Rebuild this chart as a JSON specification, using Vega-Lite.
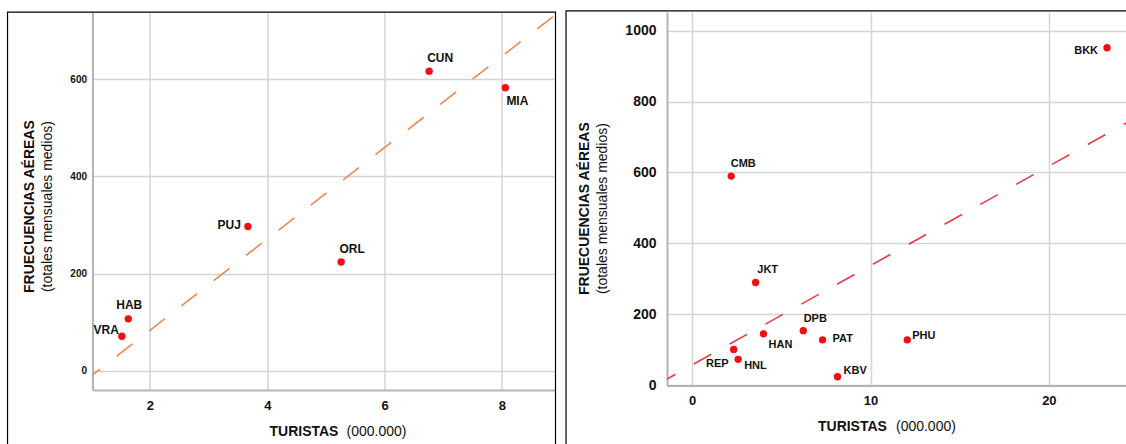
{
  "$schema": "https://vega.github.io/schema/vega-lite/v6.json",
  "background": "white",
  "padding": {"left": 6.5, "top": 10.1, "right": 0, "bottom": 0},
  "bounds": "flush",
  "spacing": 111.5,
  "datasets": {
    "leftPts": [
      {"c": "CUN", "t": 6.76, "f": 617},
      {"c": "MIA", "t": 8.06, "f": 583},
      {"c": "PUJ", "t": 3.67, "f": 297},
      {"c": "ORL", "t": 5.26, "f": 224},
      {"c": "HAB", "t": 1.63, "f": 107},
      {"c": "VRA", "t": 1.52, "f": 71}
    ],
    "leftTrend": [
      {"t": 1.02, "f": -8.6},
      {"t": 8.915, "f": 733.5}
    ],
    "rightPts": [
      {"c": "BKK", "t": 23.26, "f": 952},
      {"c": "CMB", "t": 2.19, "f": 590},
      {"c": "JKT", "t": 3.56, "f": 290},
      {"c": "HAN", "t": 4.0, "f": 145},
      {"c": "DPB", "t": 6.23, "f": 154},
      {"c": "PAT", "t": 7.31, "f": 128},
      {"c": "PHU", "t": 12.06, "f": 128},
      {"c": "REP", "t": 2.33, "f": 101},
      {"c": "HNL", "t": 2.58, "f": 73},
      {"c": "KBV", "t": 8.15, "f": 24}
    ],
    "rightTrend": [
      {"t": -1.41, "f": 17.7},
      {"t": 24.38, "f": 741}
    ],
    "frame": [{}]
  },
  "hconcat": [
    {
      "width": 463,
      "height": 378,
      "resolve": {"axis": {"x": "independent", "y": "independent"}},
      "layer": [
        {
          "data": {"name": "leftPts"},
          "mark": {"type": "circle", "size": 55, "color": "#f01010", "opacity": 1},
          "encoding": {
            "x": {"field": "t", "type": "quantitative",
              "scale": {"domain": [1.02, 8.915], "nice": false, "zero": false},
              "axis": {"orient": "bottom", "values": [2, 4, 6, 8], "labelFontSize": 13, "labelPadding": 9, "grid": true,
                "title": "TURISTAS", "titleFontSize": 14, "titleFontWeight": "bold", "titleAlign": "left", "titleBaseline": "alphabetic", "titleX": 176.5, "titleY": 45}},
            "y": {"field": "f", "type": "quantitative",
              "scale": {"domain": [-39.7, 738.6], "nice": false, "zero": false},
              "axis": {"orient": "left", "values": [0, 200, 400, 600], "format": "d", "labelFontSize": 10, "labelPadding": 6, "grid": true,
                "title": "(totales mensuales medios)", "titleFontSize": 14, "titleFontWeight": "normal", "titleAngle": 270, "titleAlign": "center", "titleBaseline": "middle", "titleX": -45, "titleY": 194}}
          }
        },
        {
          "data": {"name": "leftTrend"},
          "mark": {"type": "line", "color": "#f2864c", "strokeWidth": 1.6, "strokeDash": [20, 21], "strokeDashOffset": 10.4, "clip": true},
          "encoding": {
            "x": {"field": "t", "type": "quantitative",
              "scale": {"domain": [1.02, 8.915], "nice": false, "zero": false},
              "axis": {"orient": "bottom", "labels": false, "domain": false, "grid": false, "ticks": false,
                "title": "(000.000)", "titleFontSize": 14, "titleFontWeight": "normal", "titleAlign": "left", "titleBaseline": "alphabetic", "titleX": 253.5, "titleY": 45}},
            "y": {"field": "f", "type": "quantitative",
              "scale": {"domain": [-39.7, 738.6], "nice": false, "zero": false},
              "axis": {"orient": "left", "labels": false, "domain": false, "grid": false, "ticks": false,
                "title": "FRUECUENCIAS AÉREAS", "titleFontSize": 14, "titleFontWeight": "bold", "titleAngle": 270, "titleAlign": "center", "titleBaseline": "middle", "titleX": -63, "titleY": 194}}
          }
        },
        {
          "data": {"name": "frame"},
          "mark": {"type": "rect", "fill": "#ffffff", "fillOpacity": 0, "stroke": "#000000", "strokeWidth": 1.2, "clip": false},
          "encoding": {
            "x": {"datum": -0.429, "type": "quantitative", "axis": null, "scale": {"domain": [1.02, 8.915], "nice": false, "zero": false}},
            "x2": {"datum": 8.915},
            "y": {"datum": 738.6, "type": "quantitative", "axis": null, "scale": {"domain": [-39.7, 738.6], "nice": false, "zero": false}},
            "y2": {"datum": -200}
          }
        },
        {
          "data": {"name": "leftPts"},
          "transform": [{"filter": {"field": "c", "oneOf": ["CUN", "ORL"]}}],
          "mark": {"type": "text", "fontSize": 12, "fontWeight": "bold", "align": "center", "baseline": "middle", "dx": 11, "dy": -13, "color": "#111"},
          "encoding": {
            "x": {"field": "t", "type": "quantitative", "axis": null, "scale": {"domain": [1.02, 8.915], "nice": false, "zero": false}},
            "y": {"field": "f", "type": "quantitative", "axis": null, "scale": {"domain": [-39.7, 738.6], "nice": false, "zero": false}},
            "text": {"field": "c"}
          }
        },
        {
          "data": {"name": "leftPts"},
          "transform": [{"filter": {"field": "c", "equal": "MIA"}}],
          "mark": {"type": "text", "fontSize": 12, "fontWeight": "bold", "align": "center", "baseline": "middle", "dx": 12, "dy": 13, "color": "#111"},
          "encoding": {
            "x": {"field": "t", "type": "quantitative", "axis": null, "scale": {"domain": [1.02, 8.915], "nice": false, "zero": false}},
            "y": {"field": "f", "type": "quantitative", "axis": null, "scale": {"domain": [-39.7, 738.6], "nice": false, "zero": false}},
            "text": {"field": "c"}
          }
        },
        {
          "data": {"name": "leftPts"},
          "transform": [{"filter": {"field": "c", "equal": "PUJ"}}],
          "mark": {"type": "text", "fontSize": 12, "fontWeight": "bold", "align": "right", "baseline": "middle", "dx": -7, "dy": -2, "color": "#111"},
          "encoding": {
            "x": {"field": "t", "type": "quantitative", "axis": null, "scale": {"domain": [1.02, 8.915], "nice": false, "zero": false}},
            "y": {"field": "f", "type": "quantitative", "axis": null, "scale": {"domain": [-39.7, 738.6], "nice": false, "zero": false}},
            "text": {"field": "c"}
          }
        },
        {
          "data": {"name": "leftPts"},
          "transform": [{"filter": {"field": "c", "equal": "VRA"}}],
          "mark": {"type": "text", "fontSize": 12, "fontWeight": "bold", "align": "right", "baseline": "middle", "dx": -3, "dy": -6, "color": "#111"},
          "encoding": {
            "x": {"field": "t", "type": "quantitative", "axis": null, "scale": {"domain": [1.02, 8.915], "nice": false, "zero": false}},
            "y": {"field": "f", "type": "quantitative", "axis": null, "scale": {"domain": [-39.7, 738.6], "nice": false, "zero": false}},
            "text": {"field": "c"}
          }
        },
        {
          "data": {"name": "leftPts"},
          "transform": [{"filter": {"field": "c", "equal": "HAB"}}],
          "mark": {"type": "text", "fontSize": 12, "fontWeight": "bold", "align": "center", "baseline": "middle", "dx": 1, "dy": -14, "color": "#111"},
          "encoding": {
            "x": {"field": "t", "type": "quantitative", "axis": null, "scale": {"domain": [1.02, 8.915], "nice": false, "zero": false}},
            "y": {"field": "f", "type": "quantitative", "axis": null, "scale": {"domain": [-39.7, 738.6], "nice": false, "zero": false}},
            "text": {"field": "c"}
          }
        }
      ]
    },
    {
      "width": 460,
      "height": 373.5,
      "resolve": {"axis": {"x": "independent", "y": "independent"}},
      "layer": [
        {
          "data": {"name": "rightPts"},
          "mark": {"type": "circle", "size": 55, "color": "#f01010", "opacity": 1},
          "encoding": {
            "x": {"field": "t", "type": "quantitative",
              "scale": {"domain": [-1.41, 24.38], "nice": false, "zero": false},
              "axis": {"orient": "bottom", "values": [0, 10, 20], "labelFontSize": 13, "labelPadding": 9, "grid": true,
                "title": "TURISTAS", "titleFontSize": 14, "titleFontWeight": "bold", "titleAlign": "left", "titleBaseline": "alphabetic", "titleX": 150.5, "titleY": 44.5}},
            "y": {"field": "f", "type": "quantitative",
              "scale": {"domain": [-1, 1052.7], "nice": false, "zero": false},
              "axis": {"orient": "left", "values": [0, 200, 400, 600, 800, 1000], "format": "d", "labelFontSize": 14, "labelPadding": 11, "grid": true,
                "title": "(totales mensuales medios)", "titleFontSize": 14, "titleFontWeight": "normal", "titleAngle": 270, "titleAlign": "center", "titleBaseline": "middle", "titleX": -64, "titleY": 196}}
          }
        },
        {
          "data": {"name": "rightTrend"},
          "mark": {"type": "line", "color": "#ee3a46", "strokeWidth": 1.6, "strokeDash": [20, 21], "strokeDashOffset": 10.3, "clip": true},
          "encoding": {
            "x": {"field": "t", "type": "quantitative",
              "scale": {"domain": [-1.41, 24.38], "nice": false, "zero": false},
              "axis": {"orient": "bottom", "labels": false, "domain": false, "grid": false, "ticks": false,
                "title": "(000.000)", "titleFontSize": 14, "titleFontWeight": "normal", "titleAlign": "left", "titleBaseline": "alphabetic", "titleX": 228.5, "titleY": 44.5}},
            "y": {"field": "f", "type": "quantitative",
              "scale": {"domain": [-1, 1052.7], "nice": false, "zero": false},
              "axis": {"orient": "left", "labels": false, "domain": false, "grid": false, "ticks": false,
                "title": "FRUECUENCIAS AÉREAS", "titleFontSize": 14, "titleFontWeight": "bold", "titleAngle": 270, "titleAlign": "center", "titleBaseline": "middle", "titleX": -82, "titleY": 196}}
          }
        },
        {
          "data": {"name": "frame"},
          "mark": {"type": "rect", "fill": "#ffffff", "fillOpacity": 0, "stroke": "#000000", "strokeWidth": 1.2, "clip": false},
          "encoding": {
            "x": {"datum": -7.07, "type": "quantitative", "axis": null, "scale": {"domain": [-1.41, 24.38], "nice": false, "zero": false}},
            "x2": {"datum": 26},
            "y": {"datum": 1056.4, "type": "quantitative", "axis": null, "scale": {"domain": [-1, 1052.7], "nice": false, "zero": false}},
            "y2": {"datum": -300}
          }
        },
        {
          "data": {"name": "rightPts"},
          "transform": [{"filter": {"field": "c", "oneOf": ["CMB", "JKT", "DPB"]}}],
          "mark": {"type": "text", "fontSize": 11, "fontWeight": "bold", "align": "center", "baseline": "middle", "dx": 12, "dy": -12, "color": "#111"},
          "encoding": {
            "x": {"field": "t", "type": "quantitative", "axis": null, "scale": {"domain": [-1.41, 24.38], "nice": false, "zero": false}},
            "y": {"field": "f", "type": "quantitative", "axis": null, "scale": {"domain": [-1, 1052.7], "nice": false, "zero": false}},
            "text": {"field": "c"}
          }
        },
        {
          "data": {"name": "rightPts"},
          "transform": [{"filter": {"field": "c", "equal": "HAN"}}],
          "mark": {"type": "text", "fontSize": 11, "fontWeight": "bold", "align": "center", "baseline": "middle", "dx": 17, "dy": 11, "color": "#111"},
          "encoding": {
            "x": {"field": "t", "type": "quantitative", "axis": null, "scale": {"domain": [-1.41, 24.38], "nice": false, "zero": false}},
            "y": {"field": "f", "type": "quantitative", "axis": null, "scale": {"domain": [-1, 1052.7], "nice": false, "zero": false}},
            "text": {"field": "c"}
          }
        },
        {
          "data": {"name": "rightPts"},
          "transform": [{"filter": {"field": "c", "equal": "PAT"}}],
          "mark": {"type": "text", "fontSize": 11, "fontWeight": "bold", "align": "left", "baseline": "middle", "dx": 10, "dy": -1, "color": "#111"},
          "encoding": {
            "x": {"field": "t", "type": "quantitative", "axis": null, "scale": {"domain": [-1.41, 24.38], "nice": false, "zero": false}},
            "y": {"field": "f", "type": "quantitative", "axis": null, "scale": {"domain": [-1, 1052.7], "nice": false, "zero": false}},
            "text": {"field": "c"}
          }
        },
        {
          "data": {"name": "rightPts"},
          "transform": [{"filter": {"field": "c", "equal": "PHU"}}],
          "mark": {"type": "text", "fontSize": 11, "fontWeight": "bold", "align": "left", "baseline": "middle", "dx": 5, "dy": -4, "color": "#111"},
          "encoding": {
            "x": {"field": "t", "type": "quantitative", "axis": null, "scale": {"domain": [-1.41, 24.38], "nice": false, "zero": false}},
            "y": {"field": "f", "type": "quantitative", "axis": null, "scale": {"domain": [-1, 1052.7], "nice": false, "zero": false}},
            "text": {"field": "c"}
          }
        },
        {
          "data": {"name": "rightPts"},
          "transform": [{"filter": {"field": "c", "equal": "HNL"}}],
          "mark": {"type": "text", "fontSize": 11, "fontWeight": "bold", "align": "left", "baseline": "middle", "dx": 6, "dy": 7, "color": "#111"},
          "encoding": {
            "x": {"field": "t", "type": "quantitative", "axis": null, "scale": {"domain": [-1.41, 24.38], "nice": false, "zero": false}},
            "y": {"field": "f", "type": "quantitative", "axis": null, "scale": {"domain": [-1, 1052.7], "nice": false, "zero": false}},
            "text": {"field": "c"}
          }
        },
        {
          "data": {"name": "rightPts"},
          "transform": [{"filter": {"field": "c", "equal": "KBV"}}],
          "mark": {"type": "text", "fontSize": 11, "fontWeight": "bold", "align": "left", "baseline": "middle", "dx": 6, "dy": -6, "color": "#111"},
          "encoding": {
            "x": {"field": "t", "type": "quantitative", "axis": null, "scale": {"domain": [-1.41, 24.38], "nice": false, "zero": false}},
            "y": {"field": "f", "type": "quantitative", "axis": null, "scale": {"domain": [-1, 1052.7], "nice": false, "zero": false}},
            "text": {"field": "c"}
          }
        },
        {
          "data": {"name": "rightPts"},
          "transform": [{"filter": {"field": "c", "equal": "BKK"}}],
          "mark": {"type": "text", "fontSize": 11, "fontWeight": "bold", "align": "right", "baseline": "middle", "dx": -9, "dy": 3, "color": "#111"},
          "encoding": {
            "x": {"field": "t", "type": "quantitative", "axis": null, "scale": {"domain": [-1.41, 24.38], "nice": false, "zero": false}},
            "y": {"field": "f", "type": "quantitative", "axis": null, "scale": {"domain": [-1, 1052.7], "nice": false, "zero": false}},
            "text": {"field": "c"}
          }
        },
        {
          "data": {"name": "rightPts"},
          "transform": [{"filter": {"field": "c", "equal": "REP"}}],
          "mark": {"type": "text", "fontSize": 11, "fontWeight": "bold", "align": "right", "baseline": "middle", "dx": -5, "dy": 15, "color": "#111"},
          "encoding": {
            "x": {"field": "t", "type": "quantitative", "axis": null, "scale": {"domain": [-1.41, 24.38], "nice": false, "zero": false}},
            "y": {"field": "f", "type": "quantitative", "axis": null, "scale": {"domain": [-1, 1052.7], "nice": false, "zero": false}},
            "text": {"field": "c"}
          }
        }
      ]
    }
  ],
  "config": {
    "font": "Liberation Sans",
    "view": {"stroke": null},
    "axis": {
      "labelFont": "Liberation Sans",
      "titleFont": "Liberation Sans",
      "labelColor": "#111111",
      "titleColor": "#111111",
      "labelFontWeight": "bold",
      "domainColor": "#b4b4b4",
      "domainWidth": 2,
      "gridColor": "#d4d4d4",
      "gridWidth": 1.5,
      "ticks": false
    },
    "text": {"font": "Liberation Sans"}
  }
}
